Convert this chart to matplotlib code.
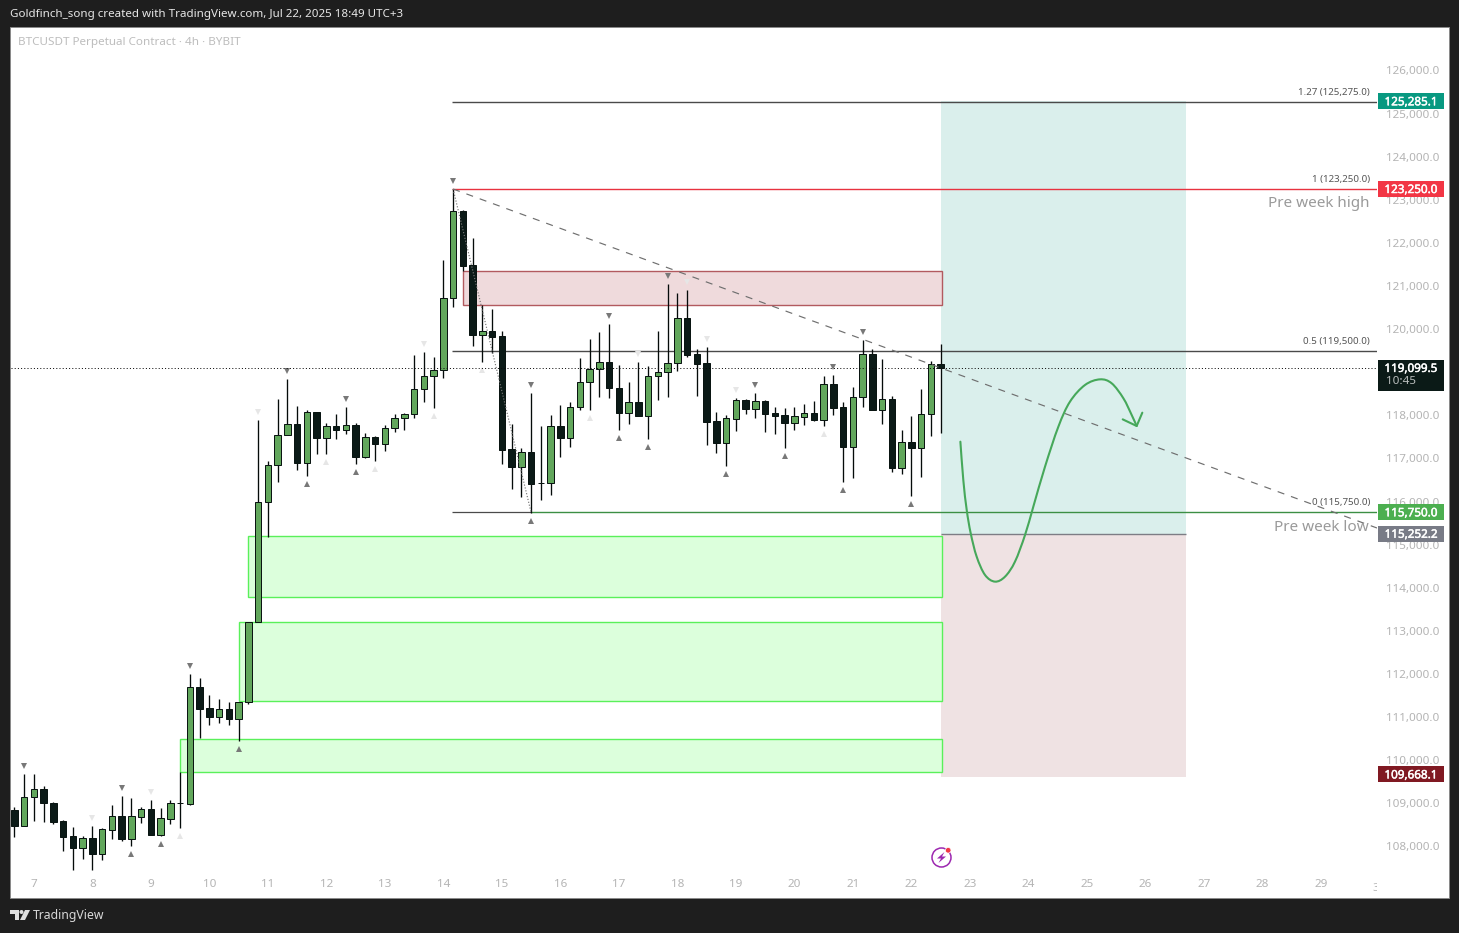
import matplotlib
matplotlib.use("Agg")
import matplotlib.pyplot as plt
import matplotlib.patheffects as pe
from matplotlib.patches import Rectangle, Polygon, Circle, PathPatch
from matplotlib.path import Path
from matplotlib.transforms import Affine2D, ScaledTranslation, Bbox

plt.rcParams['font.family'] = ['Noto Sans', 'DejaVu Sans']

opens = [108835,108480,109137,109323,108998,108580,108232,107969,108186,107830,108387,108696,108178,108689,108859,108271,108642,108998,108990,111689,111202,111008,111179,110962,111341,113205,115981,116840,117536,117791,116886,118069,117481,117744,117667,117768,117041,117489,117342,117698,117930,118023,118603,118904,119043,120714,122732,121479,119871,119948,119840,117211,116809,117141,116421,116421,117744,117481,118185,118765,119067,119229,118626,118061,118301,117992,118904,118997,119206,120250,119415,119206,117860,117365,117922,118347,118154,118324,118046,118000,117829,117968,118046,117899,118719,118185,117272,118417,119415,118115,118371,116785,117373,117234,118023,119183]
closes = [108480,109137,109323,108998,108573,108225,107969,108186,107830,108395,108696,108178,108696,108859,108271,108650,108998,108998,111689,111194,111008,111179,110962,111341,113205,115981,116840,117536,117791,116886,118069,117481,117744,117667,117768,117041,117489,117342,117698,117930,118023,118603,118904,119043,120714,122732,121472,119871,119948,119824,117195,116809,117141,116414,116421,117744,117481,118185,118765,119067,119229,118626,118061,118301,117992,118904,118997,119206,120250,119407,119198,117853,117365,117930,118347,118154,118324,118038,117992,117829,117976,118046,117899,118719,118177,117272,118417,119415,118115,118371,116785,117373,117234,118023,119183,119099.5]
highs = [108905,109678,109678,109400,109029,108611,108449,108240,108472,108418,108959,109168,109114,108905,109075,108890,109075,109732,111998,111905,111511,111418,111349,111341,113205,117891,116940,118378,118842,118216,118123,118069,117822,118030,118193,117822,117590,117520,117768,118023,118054,119391,119469,119353,121603,123250,122763,122113,120559,120466,119956,117798,117234,118518,117752,118007,118239,118309,119329,119770,119933,120118,119167,118773,119237,119136,119956,121046,120837,120907,119538,119577,118069,117999,118394,118371,118517,118347,118185,118162,118185,118255,118332,118912,118935,118309,118649,119747,119530,119298,118440,117651,117976,118610,119252,119654]
lows = [108225,108480,108588,108573,108526,107900,107451,107714,107451,107683,108170,108124,108016,108542,108271,108240,108518,108433,108959,110514,110815,110862,110815,110452,111295,113205,115177,116461,117536,116739,116600,117110,117110,117458,117574,116878,117017,116948,117180,117621,117667,117945,118317,118177,118873,120520,121348,119616,119245,119453,116878,116290,116113,115741,116035,116151,117041,117273,118123,118131,118432,118409,117667,117806,117992,117450,118363,118432,119036,119360,118456,117319,117133,116832,117644,118038,117945,117620,117574,117249,117667,117783,117876,117760,118015,116453,116553,118193,118115,117806,116692,116646,116136,116576,117528,117597]

strong_high_idx = [1,11,18,28,34,45,53,61,67,76,84,87]
strong_low_idx = [12,15,23,30,35,53,62,65,73,79,85,92]
faint_high_idx = [8,14,25,42,64,69,71,74]
faint_low_idx = [17,32,37,43,48,59,83]

day_labels = ['7','8','9','10','11','12','13','14','15','16','17','18','19','20','21','22','23','24','25','26','27','28','29']
day_idx = [2+6*k for k in range(len(day_labels))]
price_ticks = list(range(108000, 126001, 1000))

demand_zones = [(24,95.1,115200,113785),(23,95.1,113205,111372),(17,95.1,110490,109725)]
supply_zone = (46,95.1,121348,120559)
trade_start, trade_end = 95, 120.15
trade_target, trade_entry, trade_stop = 125285.1, 115252.2, 109668.1
box_bottom = 109615
fib_start = 44.87
fib_levels = [125275.0,123250.0,119500.0,115750.0]
fib_names = ['1.27','1','0.5','0']
fib_colors = ['#4a4a4a','#e8323f','#4a4a4a','#3c8f44']
fib_color_from = [44.87,44.87,44.87,53]
last_price = 119099.5
trend_x = [45,139.76]
trend_y = [123250,115385]
swing_x = [45,53]
swing_y = [123250,115750]
curve_x = [97.03,97.33,97.68,98.09,98.70,99.56,100.58,101.61,102.63,103.66,104.51,105.71,107.08,108.27,109.81,111.35,112.55,113.75,114.60,115.11]
curve_y = [117388,116499,115803,115262,114721,114295,114141,114257,114605,115223,115880,116808,117736,118316,118703,118834,118742,118394,118007,117752]
head_x = [113.68,115.11,115.69]
head_y = [117906,117752,118061]
tags = [(125285.1,'#089981'),(123250.0,'#f23645'),(115750.0,'#4caf50'),(115252.2,'#787b86'),(109668.1,'#801922')]

W, H = 1459, 933
fig = plt.figure(figsize=(W/100, H/100), dpi=100, facecolor='#1e1e1e')
px = Affine2D().scale(1, -1).translate(0, H)

fig.add_artist(Rectangle((10, 27), 1439, 870.5, transform=px, fc='white', ec='#8a8a8a', lw=0.7, zorder=-1))

L, R, T, B = 11, 1377, 28, 873
ax = fig.add_axes([L/W, 1-B/H, (R-L)/W, (B-T)/H], facecolor='none')
ax.set_xlim(-0.342, 139.76)
ax.set_ylim(107381.4, 126985.4)
for s in ax.spines.values():
    s.set_visible(False)

# zones
for x0, x1, top, bot in demand_zones:
    ax.add_patch(Rectangle((x0, bot), x1-x0, top-bot, fc='#dcffdc', ec='#5af05a', lw=1.0, zorder=1.2))
x0, x1, top, bot = supply_zone
ax.add_patch(Rectangle((x0, bot), x1-x0, top-bot, fc='#efdadc', ec='#b25a5f', lw=1.0, zorder=1.2))
ax.add_patch(Rectangle((trade_start, trade_entry), trade_end-trade_start, trade_target-trade_entry, fc='#daefec', ec='none', zorder=1))
ax.add_patch(Rectangle((trade_start, box_bottom), trade_end-trade_start, trade_entry-box_bottom, fc='#efe2e3', ec='none', zorder=1))
ax.hlines(trade_entry, trade_start, trade_end, color='#7d7d85', lw=1.0, zorder=2)

# fib lines
for lvl, name, col, start in zip(fib_levels, fib_names, fib_colors, fib_color_from):
    if start > fib_start:
        ax.hlines(lvl, fib_start, start, color='#4a4a4a', lw=0.9, zorder=2.1)
    ax.hlines(lvl, start, 139.76, color=col, lw=1.0, zorder=2.2)
    ax.annotate(f'{name} ({lvl:,.1f})', (139.76, lvl), xytext=(-7, 5), textcoords='offset pixels',
                ha='right', va='bottom', fontsize=7.0, color='#555555', zorder=6)

# candles
idx = list(range(len(opens)))
ax.vlines(idx, lows, highs, color='#050b0a', lw=0.95, zorder=3)
up = [i for i in idx if closes[i] > opens[i]]
dn = [i for i in idx if closes[i] <= opens[i]]
ax.bar(up, [closes[i]-opens[i] for i in up], bottom=[opens[i] for i in up], width=0.66,
       color='#62a75c', edgecolor='#0a1512', linewidth=0.72, zorder=3.2)
ax.bar(dn, [opens[i]-closes[i] for i in dn], bottom=[closes[i] for i in dn], width=0.66,
       color='#0b1a17', edgecolor='#0a1512', linewidth=0.72, zorder=3.2)

# pivot markers
dy = 8/100
up_off = ax.transData + ScaledTranslation(0, dy, fig.dpi_scale_trans)
dn_off = ax.transData + ScaledTranslation(0, -dy, fig.dpi_scale_trans)
ms = 5.0
ax.plot(strong_high_idx, [highs[i] for i in strong_high_idx], 'v', color='#787878', ms=ms, mew=0, transform=up_off, zorder=3.5, clip_on=False)
ax.plot(faint_high_idx, [highs[i] for i in faint_high_idx], 'v', color='#e6e6e6', ms=ms, mew=0, transform=up_off, zorder=3.5, clip_on=False)
ax.plot(strong_low_idx, [lows[i] for i in strong_low_idx], '^', color='#787878', ms=ms, mew=0, transform=dn_off, zorder=3.5, clip_on=False)
ax.plot(faint_low_idx, [lows[i] for i in faint_low_idx], '^', color='#e6e6e6', ms=ms, mew=0, transform=dn_off, zorder=3.5, clip_on=False)

# lines
ax.hlines(last_price, -0.342, 139.76, color='#0a0a0a', lw=0.72, linestyle=(0, (1, 2.2)), zorder=4)
ax.plot(trend_x, trend_y, color='#6f6f6f', lw=0.85, linestyle=(0, (6, 6)), zorder=4)
ax.plot(swing_x, swing_y, color='#777777', lw=0.85, linestyle=(0, (1, 1.5)), zorder=4)

# hand-drawn curve as a smooth Catmull-Rom path through the read points
pts = list(zip(curve_x, curve_y))
verts = [pts[0]]
codes = [Path.MOVETO]
for k in range(len(pts)-1):
    p0 = pts[max(k-1, 0)]; p1 = pts[k]; p2 = pts[k+1]; p3 = pts[min(k+2, len(pts)-1)]
    c1 = (p1[0]+(p2[0]-p0[0])/6, p1[1]+(p2[1]-p0[1])/6)
    c2 = (p2[0]-(p3[0]-p1[0])/6, p2[1]-(p3[1]-p1[1])/6)
    verts += [c1, c2, p2]
    codes += [Path.CURVE4]*3
ax.add_patch(PathPatch(Path(verts, codes), fc='none', ec='#46a85a', lw=1.5, zorder=5, capstyle='round'))
ax.plot(head_x, head_y, color='#46a85a', lw=1.5, zorder=5, solid_capstyle='round')

# text in pane
ax.annotate('Pre week high', (139.76, 122917), xytext=(-8, 0), textcoords='offset pixels', ha='right', va='center', fontsize=11, color='#9a9a9a', zorder=6)
ax.annotate('Pre week low', (139.76, 115407), xytext=(-8, 0), textcoords='offset pixels', ha='right', va='center', fontsize=11, color='#9a9a9a', zorder=6)
ax.text(18/W, 1-42/H, 'BTCUSDT Perpetual Contract · 4h · BYBIT', transform=fig.transFigure, fontsize=8.4, color='#bdbdbd', va='center', ha='left')

# axes (the 119,000.0 label sits fully behind the last-price tag in the reference)
ax.set_xticks(day_idx, day_labels)
ax.set_yticks(price_ticks, ['' if v == 119000 else f'{v:,.1f}' for v in price_ticks])
ax.yaxis.tick_right()
ax.tick_params(axis='x', length=0, pad=4, labelsize=8.4, labelcolor='#b4b4b4')
ax.tick_params(axis='y', length=0, pad=6.2, labelsize=8.4, labelcolor='#b4b4b4')
for t in ax.get_yticklabels():
    t.set_va('center_baseline')
clip_t = ax.text(140, -10/845, '30', transform=ax.get_xaxis_transform(), fontsize=8.4, color='#b4b4b4', ha='center', va='top', clip_on=True)
clip_t.set_clip_box(Bbox([[L, 0], [R, H]]))

# price tags
ytr = ax.get_yaxis_transform()
x_frac = (1378-L)/(R-L)
w_frac = 66/(R-L)
tag_h = 16*23.2
bold = [pe.withStroke(linewidth=0.35, foreground='white')]
for price, col in tags:
    ax.add_patch(Rectangle((x_frac, price-tag_h/2), w_frac, tag_h, transform=ytr, fc=col, ec='none', zorder=7, clip_on=False))
    ax.text(x_frac+w_frac/2, price, f'{price:,.1f}', transform=ytr, ha='center', va='center_baseline', fontsize=8.4, color='white', zorder=8, clip_on=False, path_effects=bold)
ax.add_patch(Rectangle((x_frac, last_price-23.2*23.5), w_frac, 31*23.2, transform=ytr, fc='#0b1a17', ec='none', zorder=7, clip_on=False))
ax.text(x_frac+w_frac/2, last_price, f'{last_price:,.1f}', transform=ytr, ha='center', va='center_baseline', fontsize=8.4, color='white', zorder=8, clip_on=False, path_effects=bold)
ax.text(1386/W, 1-382/H, '10:45', transform=fig.transFigure, ha='left', va='center', fontsize=8.4, color='#b9bdbc', zorder=8)

# header and footer
fig.text(10/W, 1-15/H, 'Goldfinch_song created with TradingView.com, Jul 22, 2025 18:49 UTC+3', fontsize=8.35, color='#e6e6e6', va='center', ha='left')
fig.text(33/W, 1-915/H, 'TradingView', fontsize=8.8, color='#d8d8d8', va='center', ha='left')
logo = '#e0e0e0'
fig.add_artist(Polygon([(10, 910), (19, 910), (19, 920), (15, 920), (15, 914), (10, 914)], transform=px, fc=logo, ec='none', zorder=5))
fig.add_artist(Circle((21.5, 912), 2, transform=px, fc=logo, ec='none', zorder=5))
fig.add_artist(Polygon([(25, 910), (30, 910), (25, 920), (20, 920)], transform=px, fc=logo, ec='none', zorder=5))

# lightning icon
fig.add_artist(Circle((941.5, 857.5), 9.5, transform=px, fc='white', ec='#9c27b0', lw=1.1, zorder=5))
fig.add_artist(Polygon([(944.5, 852), (937, 858.5), (941, 858.5), (938.5, 863), (946, 856.5), (942, 856.5)], transform=px, fc='#9c27b0', ec='none', zorder=6))
fig.add_artist(Circle((948.2, 850.3), 2.8, transform=px, fc='#f23645', ec='white', lw=0.5, zorder=6))

fig.savefig('out.png', dpi=100, facecolor=fig.get_facecolor())
